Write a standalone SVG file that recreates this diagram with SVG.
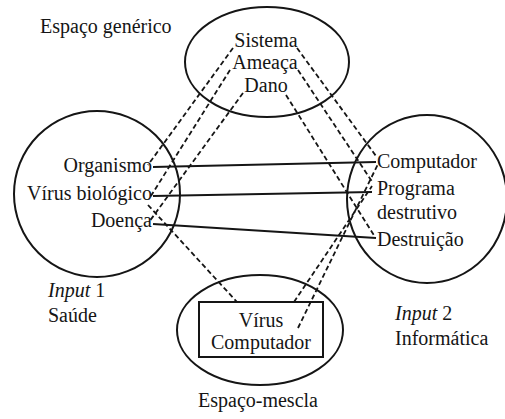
<svg xmlns="http://www.w3.org/2000/svg" width="505" height="419" viewBox="0 0 505 419">
<style>
  .shape { fill: none; stroke: #151515; stroke-width: 2; }
  .t { font-family: "Liberation Serif", "Times New Roman", serif; font-size: 20px; fill: #151515; }
  .m { text-anchor: middle; }
  .e { text-anchor: end; }
  .solid { stroke: #151515; stroke-width: 1.8; fill: none; }
  .dash { stroke: #151515; stroke-width: 1.8; fill: none; stroke-dasharray: 5 3; }
</style>
<rect x="0" y="0" width="505" height="419" fill="#ffffff"/>

<g id="generic-space">
  <ellipse class="shape" cx="267" cy="62" rx="82" ry="55"/>
  <text class="t" x="40" y="33">Espaço genérico</text>
  <text class="t m" x="266" y="47">Sistema</text>
  <text class="t m" x="265" y="69">Ameaça</text>
  <text class="t m" x="266" y="92">Dano</text>
</g>

<g id="input1">
  <circle class="shape" cx="97" cy="194" r="83"/>
  <text class="t e" x="152" y="172">Organismo</text>
  <text class="t e" x="152" y="200">Vírus biológico</text>
  <text class="t e" x="152" y="227">Doença</text>
  <text class="t" x="48" y="297"><tspan font-style="italic">Input</tspan> 1</text>
  <text class="t" x="48" y="322">Saúde</text>
</g>

<g id="input2">
  <ellipse class="shape" cx="427" cy="199" rx="80" ry="84"/>
  <text class="t" x="377" y="168">Computador</text>
  <text class="t" x="377" y="195">Programa</text>
  <text class="t" x="377" y="219">destrutivo</text>
  <text class="t" x="377" y="246">Destruição</text>
  <text class="t" x="395" y="320"><tspan font-style="italic">Input</tspan> 2</text>
  <text class="t" x="395" y="345">Informática</text>
</g>

<g id="blend-space">
  <ellipse class="shape" cx="260" cy="330" rx="83" ry="55"/>
  <rect class="shape" x="199" y="302" width="124" height="55"/>
  <text class="t m" x="261" y="327">Vírus</text>
  <text class="t m" x="261" y="349">Computador</text>
  <text class="t m" x="258" y="407">Espaço-mescla</text>
</g>

<g id="connectors">
  <line class="solid" x1="153" y1="167" x2="376" y2="162"/>
  <line class="solid" x1="153" y1="196" x2="372" y2="192"/>
  <line class="solid" x1="153" y1="224" x2="376" y2="238"/>
  <line class="dash" x1="233" y1="48" x2="148" y2="165"/>
  <line class="dash" x1="230" y1="70" x2="149" y2="199"/>
  <line class="dash" x1="243" y1="93" x2="149" y2="222"/>
  <line class="dash" x1="297" y1="48" x2="376" y2="156"/>
  <line class="dash" x1="298" y1="70" x2="373" y2="183"/>
  <line class="dash" x1="286" y1="95" x2="375" y2="237"/>
  <line class="dash" x1="148" y1="205" x2="237" y2="302"/>
  <line class="dash" x1="294" y1="302" x2="372" y2="186"/>
  <line class="dash" x1="298" y1="328" x2="378" y2="164"/>
</g>
</svg>
